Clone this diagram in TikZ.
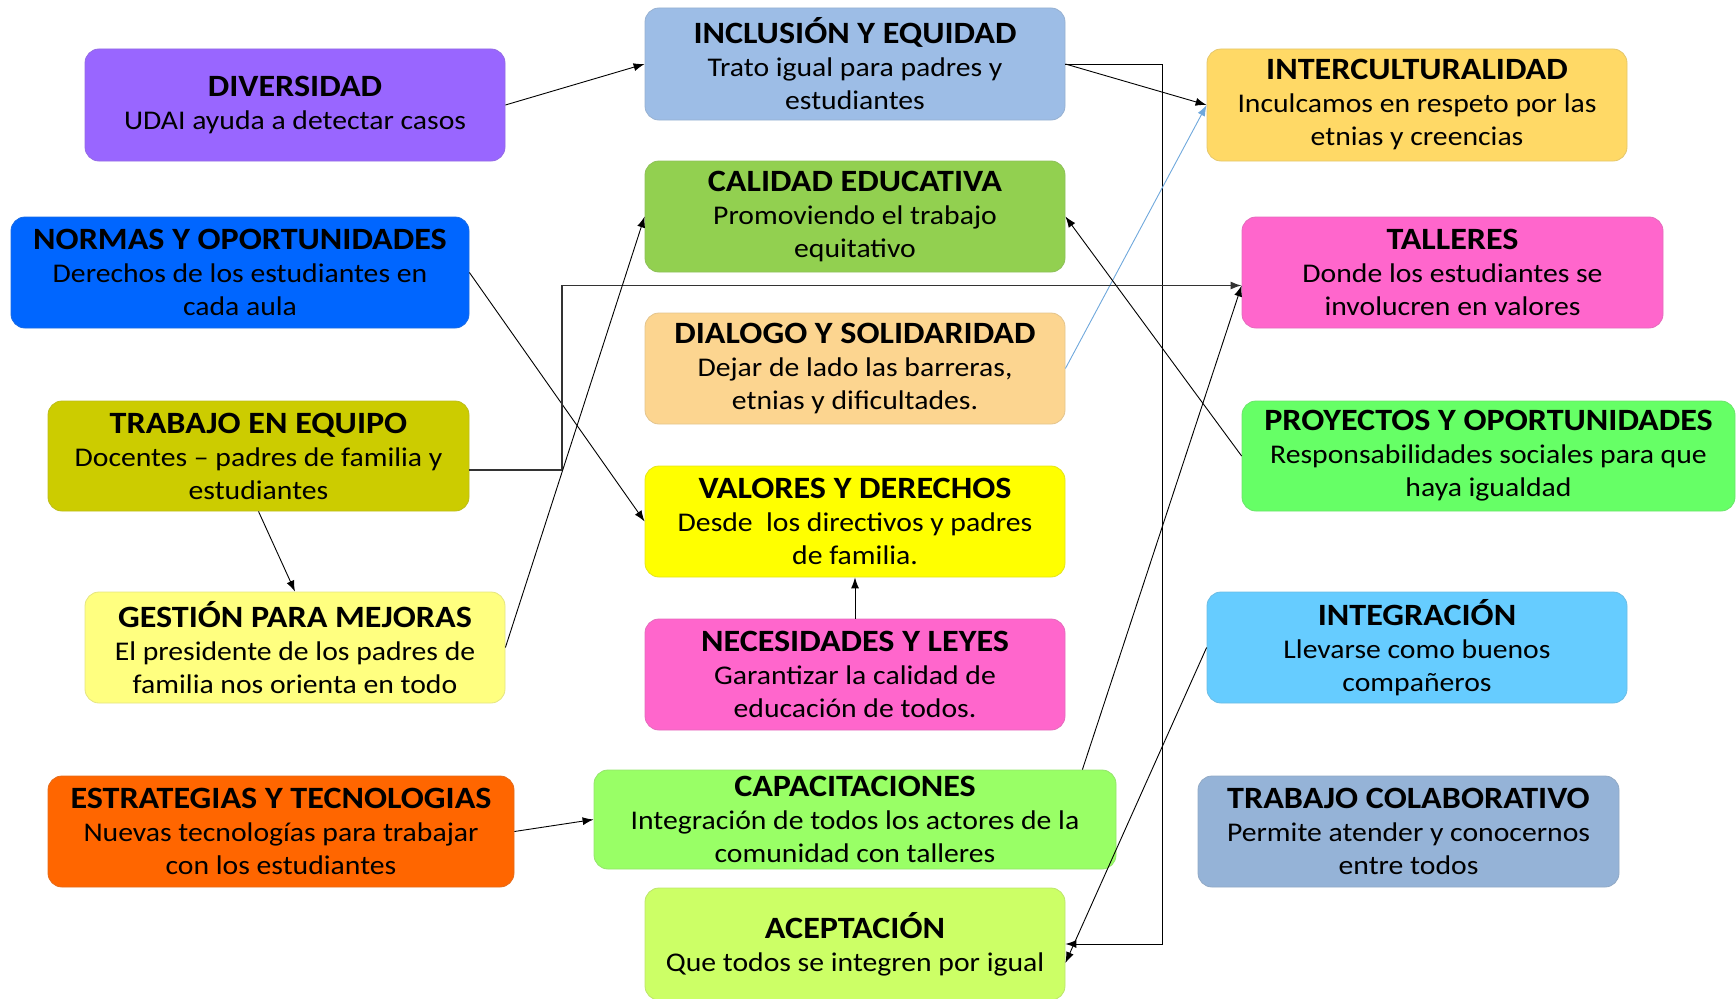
\documentclass[tikz,border=0pt]{standalone}
\usepackage{fontspec}
\setmainfont{Carlito}[FakeStretch=1.1]
\usetikzlibrary{arrows.meta}
\definecolor{cDiv}{HTML}{9966FF}
\definecolor{cInc}{HTML}{9DBDE6}
\definecolor{cInt}{HTML}{FFD966}
\definecolor{cNor}{HTML}{0066FF}
\definecolor{cCal}{HTML}{92D050}
\definecolor{cTal}{HTML}{FF66CC}
\definecolor{cDia}{HTML}{FCD590}
\definecolor{cTra}{HTML}{CCCC00}
\definecolor{cPro}{HTML}{66FF66}
\definecolor{cVal}{HTML}{FFFF00}
\definecolor{cGes}{HTML}{FFFF80}
\definecolor{cNec}{HTML}{FF66CC}
\definecolor{cIng}{HTML}{66CCFF}
\definecolor{cEst}{HTML}{FF6600}
\definecolor{cCap}{HTML}{99FF66}
\definecolor{cCol}{HTML}{95B3D7}
\definecolor{cAce}{HTML}{CCFF66}
\definecolor{cLink}{HTML}{6FA8DC}
\newcommand{\ttl}[1]{{\fontsize{31}{34}\selectfont\bfseries #1}}
\tikzset{
  box/.style={rounded corners=14pt, draw=#1!80!gray, line width=0.8pt, fill=#1,
    align=center, inner sep=3pt, font=\fontsize{27}{33}\selectfont},
  arr/.style={-{Latex[length=11pt,width=8pt]}, line width=0.9pt, black},
}
\begin{document}
\begin{tikzpicture}[x=1pt,y=-1pt]
\useasboundingbox (0,0) rectangle (1736,998);
% left column
\node[box=cDiv, minimum width=420pt, minimum height=112pt] (div) at (295,105) {\ttl{DIVERSIDAD}\\UDAI ayuda a detectar casos};
\node[box=cNor, minimum width=458pt, minimum height=111pt] (nor) at (240,272.5) {\ttl{NORMAS Y OPORTUNIDADES}\\Derechos de los estudiantes en\\cada aula};
\node[box=cTra, minimum width=421pt, minimum height=110pt] (tra) at (258.5,456) {\ttl{TRABAJO EN EQUIPO}\\Docentes -- padres de familia y\\estudiantes};
\node[box=cGes, minimum width=420pt, minimum height=111pt] (ges) at (295,647.5) {\ttl{GESTIÓN PARA MEJORAS}\\El presidente de los padres de\\familia nos orienta en todo};
\node[box=cEst, minimum width=466pt, minimum height=111pt] (est) at (281,831.5) {\ttl{ESTRATEGIAS Y TECNOLOGIAS}\\Nuevas tecnologías para trabajar\\con los estudiantes};
% middle column
\node[box=cInc, minimum width=420pt, minimum height=112pt] (inc) at (855,64) {\ttl{INCLUSIÓN Y EQUIDAD}\\Trato igual para padres y\\estudiantes};
\node[box=cCal, minimum width=420pt, minimum height=111pt] (cal) at (855,216.5) {\ttl{CALIDAD EDUCATIVA}\\Promoviendo el trabajo\\equitativo};
\node[box=cDia, minimum width=420pt, minimum height=111pt] (dia) at (855,368.5) {\ttl{DIALOGO Y SOLIDARIDAD}\\Dejar de lado las barreras,\\etnias y dificultades.};
\node[box=cVal, minimum width=420pt, minimum height=111pt] (val) at (855,521.5) {\ttl{VALORES Y DERECHOS}\\Desde\ \ los directivos y padres\\de familia.};
\node[box=cNec, minimum width=420pt, minimum height=111pt] (nec) at (855,674.5) {\ttl{NECESIDADES Y LEYES}\\Garantizar la calidad de\\educación de todos.};
\node[box=cCap, minimum width=522pt, minimum height=99pt] (cap) at (855,819.5) {\ttl{CAPACITACIONES}\\Integración de todos los actores de la\\comunidad con talleres};
\node[box=cAce, minimum width=420pt, minimum height=112pt] (ace) at (855,944) {\ttl{ACEPTACIÓN}\\Que todos se integren por igual};
% right column
\node[box=cInt, minimum width=420pt, minimum height=112pt] (int) at (1417,105) {\ttl{INTERCULTURALIDAD}\\Inculcamos en respeto por las\\etnias y creencias};
\node[box=cTal, minimum width=421pt, minimum height=111pt] (tal) at (1452.5,272.5) {\ttl{TALLERES}\\Donde los estudiantes se\\involucren en valores};
\node[box=cPro, minimum width=493pt, minimum height=110pt] (pro) at (1488.5,456) {\ttl{PROYECTOS Y OPORTUNIDADES}\\Responsabilidades sociales para que\\haya igualdad};
\node[box=cIng, minimum width=420pt, minimum height=111pt] (ing) at (1417,647.5) {\ttl{INTEGRACIÓN}\\Llevarse como buenos\\compañeros};
\node[box=cCol, minimum width=421pt, minimum height=111pt] (col) at (1408.5,831.5) {\ttl{TRABAJO COLABORATIVO}\\Permite atender y conocernos\\entre todos};
% helper coordinates
\coordinate (r1) at (1162,500);
\coordinate (l1) at (562,380);
\coordinate (talin) at ([yshift=-13pt]tal.west);
% connectors
\draw[arr] (div.east) -- (inc.west);
\draw[arr] (inc.east) -| (r1) |- (ace.east);
\draw[arr] (inc.east) -- (int.west);
\draw[-{Latex[length=11pt,width=8pt]}, line width=0.9pt, cLink] (dia.east) -- (int.west);
\draw[arr] (nor.east) -- (val.west);
\draw[arr, line width=1.4pt, black!80] ([yshift=-14pt]tra.east) -| (l1) |- (talin);
\draw[arr] (ges.east) -- (cal.west);
\draw[arr] (tra.south) -- (ges.north);
\draw[arr] (pro.west) -- (cal.east);
\draw[arr] (nec.north) -- (val.south);
\draw[arr] (est.east) -- (cap.west);
\draw[arr] ([xshift=-34pt]cap.north east) -- (talin);
\draw[arr] (ing.west) -- ([yshift=-19pt]ace.east);
\end{tikzpicture}
\end{document}
